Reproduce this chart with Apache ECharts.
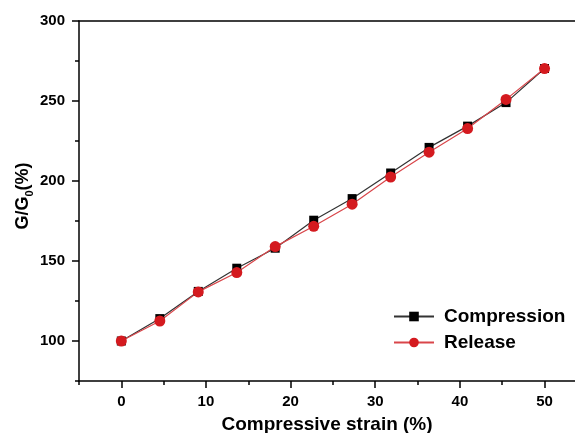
<!DOCTYPE html>
<html>
<head>
<meta charset="utf-8">
<script src="https://cdn.jsdelivr.net/npm/echarts@6/dist/echarts.min.js"></script>
<style>html,body{margin:0;padding:0;background:#fff}#c{width:575px;height:433px}</style>
</head>
<body>
<div id="c"></div>
<script>
var strain = [0, 4.55, 9.09, 13.64, 18.18, 22.73, 27.27, 31.82, 36.36, 40.91, 45.45, 50];
var compression = [100, 114, 131, 145.5, 158, 175.5, 189, 205, 221, 234.3, 249, 270.3];
var release = [100, 112.5, 130.7, 142.8, 159, 171.7, 185.5, 202.5, 218, 232.8, 251, 270.3];
var xMajor = [0, 10, 20, 30, 40, 50];
var xMinor = [-5, 5, 15, 25, 35, 45];
var yMajor = [100, 150, 200, 250, 300];
var yMinor = [75, 125, 175, 225, 275];

function pairs(xs, ys) { return xs.map(function (x, i) { return [x, ys[i]]; }); }

var FONT = '"Liberation Sans", Arial, sans-serif';
var chart = echarts.init(document.getElementById('c'), null, { renderer: 'canvas' });
var axisLine = { show: true, onZero: false, lineStyle: { color: '#000', width: 1.5 } };
var XMIN = -5, XMAX = 53.6;
chart.setOption({
  animation: false,
  backgroundColor: '#fff',
  grid: { left: 79, top: 21, right: 0, bottom: 52, containLabel: false, outerBoundsMode: 'none' },
  xAxis: [
    {
      type: 'value', min: XMIN, max: XMAX,
      axisLine: axisLine,
      axisTick: { show: true, customValues: xMajor, length: 7, lineStyle: { color: '#000', width: 1.5 } },
      axisLabel: { show: true, customValues: xMajor, margin: 13, color: '#000', fontSize: 15, fontWeight: 'bold', fontFamily: FONT },
      splitLine: { show: false },
      name: 'Compressive strain (%)', nameLocation: 'middle', nameGap: 34,
      nameTextStyle: { color: '#000', fontSize: 19, fontWeight: 'bold', fontFamily: FONT }
    },
    {
      type: 'value', min: XMIN, max: XMAX, position: 'bottom',
      axisLine: { show: false, onZero: false },
      axisTick: { show: true, customValues: xMinor, length: 4, lineStyle: { color: '#000', width: 1.5 } },
      axisLabel: { show: false },
      splitLine: { show: false }
    },
    {
      type: 'value', min: XMIN, max: XMAX, position: 'top',
      axisLine: axisLine,
      axisTick: { show: false },
      axisLabel: { show: false },
      splitLine: { show: false }
    }
  ],
  yAxis: [
    {
      type: 'value', min: 75, max: 300,
      axisLine: axisLine,
      axisTick: { show: true, customValues: yMajor, length: 7, lineStyle: { color: '#000', width: 1.5 } },
      axisLabel: { show: true, customValues: yMajor, margin: 14, color: '#000', fontSize: 15, fontWeight: 'bold', fontFamily: FONT },
      splitLine: { show: false },
      name: '{a|G/G}{s|0}{a|(%)}', nameLocation: 'middle', nameGap: 44, nameMoveOverlap: false,
      nameTextStyle: {
        color: '#000', fontFamily: FONT, padding: [0, 0, 0, 10],
        rich: {
          a: { fontSize: 18, fontWeight: 'bold', fontFamily: FONT, color: '#000', lineHeight: 24 },
          s: { fontSize: 11, fontWeight: 'bold', fontFamily: FONT, color: '#000', lineHeight: 24, verticalAlign: 'bottom' }
        }
      }
    },
    {
      type: 'value', min: 75, max: 300, position: 'left',
      axisLine: { show: false, onZero: false },
      axisTick: { show: true, customValues: yMinor, length: 4, lineStyle: { color: '#000', width: 1.5 } },
      axisLabel: { show: false },
      splitLine: { show: false }
    }
  ],
  legend: {
    orient: 'vertical', left: 393, top: 307, padding: 0, itemWidth: 40, itemHeight: 12, itemGap: 7,
    textStyle: { color: '#000', fontSize: 19, fontWeight: 'bold', fontFamily: FONT, padding: [0, 0, 0, 5] },
    data: ['Compression', 'Release']
  },
  series: [
    {
      name: 'Compression', type: 'line', data: pairs(strain, compression),
      symbol: 'rect', symbolSize: 9,
      itemStyle: { color: '#000' },
      lineStyle: { color: '#333', width: 1.2 }
    },
    {
      name: 'Release', type: 'line', data: pairs(strain, release),
      symbol: 'circle', symbolSize: 11,
      itemStyle: { color: '#d41a1f' },
      lineStyle: { color: '#d9464a', width: 1.2 }
    }
  ]
});
</script>
</body>
</html>
